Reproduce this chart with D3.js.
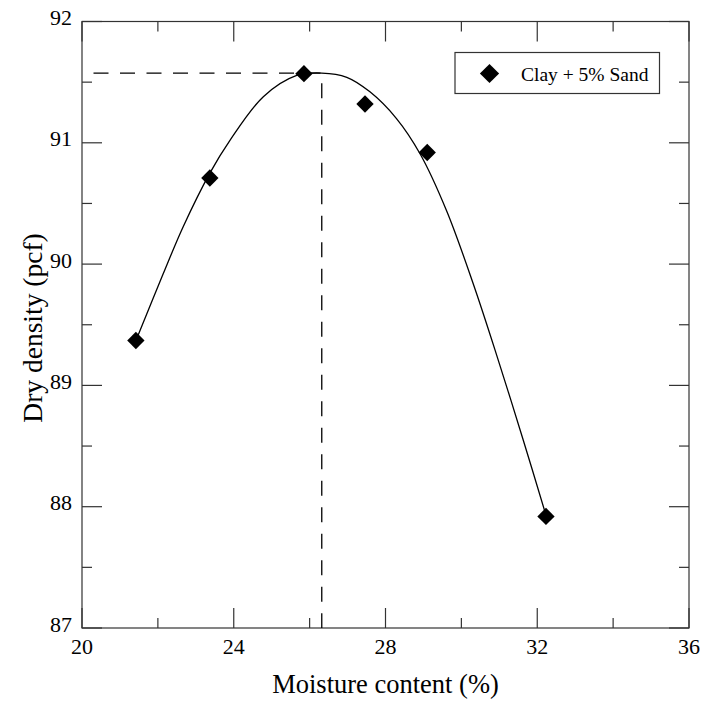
<!DOCTYPE html>
<html>
<head>
<meta charset="utf-8">
<script src="https://cdn.jsdelivr.net/npm/d3@7"></script>
<style>
  html, body { margin: 0; padding: 0; background: #fff; }
  svg text { font-family: "Liberation Serif", "Times New Roman", serif; fill: #000; }
</style>
</head>
<body>
<svg id="chart" width="704" height="706"></svg>
<script>
// Compaction test: Clay + 5% Sand
const moisture = [21.42, 23.37, 25.85, 27.46, 29.10, 32.23];
const dryDensity = [89.37, 90.71, 91.57, 91.32, 90.92, 87.92];

// Smooth compaction curve (moisture, density) pairs
const curveMoisture = [21.46, 22.14, 22.67, 23.37, 23.90, 24.78, 25.66, 26.32, 26.98, 27.59, 28.29, 28.91, 29.61, 30.31, 30.93, 31.63, 32.22];
const curveDensity  = [89.40, 89.92, 90.31, 90.75, 91.02, 91.38, 91.555, 91.575, 91.54, 91.42, 91.20, 90.91, 90.44, 89.84, 89.25, 88.55, 87.94];

// Optimum moisture content and maximum dry density
const optimumMoisture = 26.32;
const maxDryDensity = 91.575;

const xTicksMajor = [20, 24, 28, 32, 36];
const xTicksMinor = [22, 26, 30, 34];
const yTicksMajor = [87, 88, 89, 90, 91, 92];
const yTicksMinor = [87.5, 88.5, 89.5, 90.5, 91.5];

const seriesName = "Clay + 5% Sand";
const xTitle = "Moisture content (%)";
const yTitle = "Dry density (pcf)";

const plotLeft = 82, plotTop = 21.5, plotRight = 689, plotBottom = 628;

const svg = d3.select("#chart");
const x = d3.scaleLinear().domain([20, 36]).range([plotLeft, plotRight]);
const y = d3.scaleLinear().domain([87, 92]).range([plotBottom, plotTop]);

const axisColor = "#333";
const g = svg.append("g");

// Frame
g.append("rect")
  .attr("x", plotLeft).attr("y", plotTop)
  .attr("width", plotRight - plotLeft).attr("height", plotBottom - plotTop)
  .attr("fill", "none").attr("stroke", axisColor).attr("stroke-width", 1.2);

// Inward ticks on all four sides
const majorLen = 20, minorLen = 10;
[[xTicksMajor, majorLen], [xTicksMinor, minorLen]].forEach(([vals, len]) => {
  vals.forEach(v => {
    g.append("line").attr("x1", x(v)).attr("x2", x(v)).attr("y1", plotBottom).attr("y2", plotBottom - len)
      .attr("stroke", axisColor).attr("stroke-width", 1.2);
    g.append("line").attr("x1", x(v)).attr("x2", x(v)).attr("y1", plotTop).attr("y2", plotTop + len)
      .attr("stroke", axisColor).attr("stroke-width", 1.2);
  });
});
[[yTicksMajor, majorLen], [yTicksMinor, minorLen]].forEach(([vals, len]) => {
  vals.forEach(v => {
    g.append("line").attr("x1", plotLeft).attr("x2", plotLeft + len).attr("y1", y(v)).attr("y2", y(v))
      .attr("stroke", axisColor).attr("stroke-width", 1.2);
    g.append("line").attr("x1", plotRight).attr("x2", plotRight - len).attr("y1", y(v)).attr("y2", y(v))
      .attr("stroke", axisColor).attr("stroke-width", 1.2);
  });
});

// Tick labels
g.selectAll(".xl").data(xTicksMajor).join("text")
  .attr("x", d => x(d)).attr("y", plotBottom + 26)
  .attr("text-anchor", "middle").attr("font-size", 22)
  .text(d => d);
g.selectAll(".yl").data(yTicksMajor).join("text")
  .attr("x", plotLeft - 10).attr("y", d => y(d) + 3.5)
  .attr("text-anchor", "end").attr("font-size", 22)
  .text(d => d);

// Axis titles
svg.append("text")
  .attr("x", (plotLeft + plotRight) / 2).attr("y", 693)
  .attr("text-anchor", "middle").attr("font-size", 26.5)
  .text(xTitle);
svg.append("text")
  .attr("transform", `translate(41.5, 328) rotate(-90)`)
  .attr("text-anchor", "middle").attr("font-size", 27.5)
  .text(yTitle);

// Optimum guide lines
g.append("path")
  .attr("d", `M${x(20)},${y(maxDryDensity)}H${x(optimumMoisture)}V${y(87)}`)
  .attr("fill", "none").attr("stroke", "#000").attr("stroke-width", 1.3)
  .attr("stroke-dasharray", "15,11.5")
  .attr("stroke-dashoffset", -11.5);

// Fitted compaction curve
const curvePts = curveMoisture.map((m, i) => [m, curveDensity[i]]);
g.append("path")
  .datum(curvePts)
  .attr("d", d3.line().x(d => x(d[0])).y(d => y(d[1])).curve(d3.curveCatmullRom.alpha(0.5)))
  .attr("fill", "none").attr("stroke", "#000").attr("stroke-width", 1.3);

// Data points
const diamond = d3.symbol().type(d3.symbolSquare).size(150);
g.selectAll(".pt").data(moisture.map((m, i) => [m, dryDensity[i]])).join("path")
  .attr("d", diamond)
  .attr("transform", d => `translate(${x(d[0])},${y(d[1])}) rotate(45)`)
  .attr("fill", "#000");

// Legend
const lg = svg.append("g");
lg.append("rect").attr("x", 455).attr("y", 52.5).attr("width", 204.5).attr("height", 41)
  .attr("fill", "#fff").attr("stroke", axisColor).attr("stroke-width", 1.2);
lg.append("path")
  .attr("d", d3.symbol().type(d3.symbolSquare).size(185))
  .attr("transform", "translate(489.5,73.5) rotate(45)")
  .attr("fill", "#000");
lg.append("text").attr("x", 521).attr("y", 80.5).attr("font-size", 19.5).text(seriesName);
</script>
</body>
</html>
